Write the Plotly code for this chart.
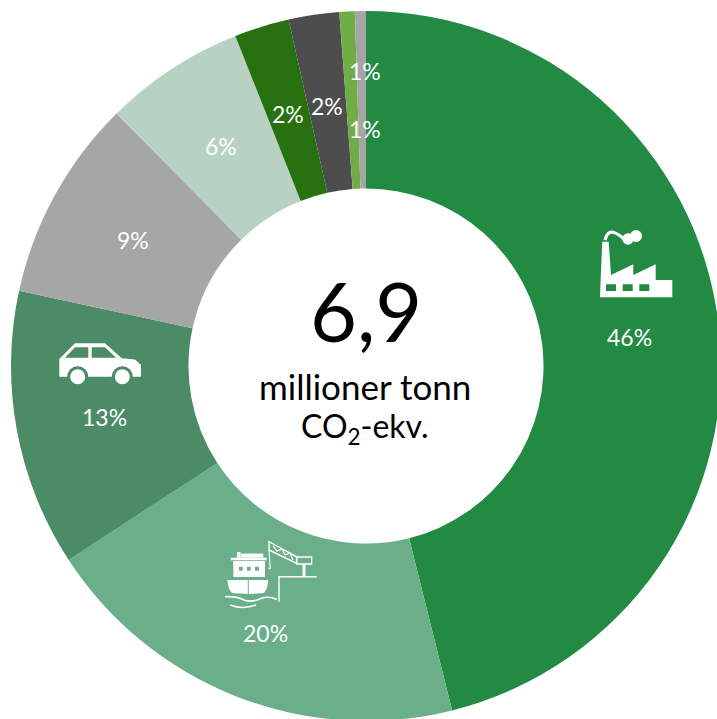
import plotly.graph_objects as go

# sources of emissions, clockwise from 12 o'clock
shares = [46.1, 19.7, 12.6, 9.2, 6.4, 2.5, 2.3, 0.7, 0.5]
share_labels = ["46%", "20%", "13%", "9%", "6%", "2%", "2%", "1%", "1%"]
colors = ["#238A44", "#6BAF8A", "#4B8C67", "#A6A6A6", "#B7D2C3",
          "#277110", "#4D4D4D", "#70AD47", "#A5A5A5"]
label_xy = [(629, 337), (265, 633), (104, 417), (133, 240), (221, 146),
            (288, 114), (327, 106), (365, 71), (365, 129)]

# canvas is a bit bigger than the window, the ring runs off the right and bottom edge
W, H = 732, 732
CX, CY, R = 366, 366, 355
GREEN_A, GREEN_B, GREEN_C = colors[0], colors[1], colors[2]


def px(x):
    return x / W


def py(y):
    return 1 - y / H


def path(*parts):
    # parts: strings and (x, y) pixel pairs
    out = []
    for p in parts:
        if isinstance(p, str):
            out.append(p)
        else:
            out.append(f"{px(p[0]):.5f},{py(p[1]):.5f}")
    return " ".join(out)


def poly(*pts):
    out = ["M", pts[0]]
    for p in pts[1:]:
        out += ["L", p]
    out.append("Z")
    return out


def rect(x0, y0, x1, y1):
    return poly((x0, y0), (x1, y0), (x1, y1), (x0, y1))


def filled(parts, color="white"):
    return dict(type="path", xref="paper", yref="paper", path=path(*parts),
                fillcolor=color, line=dict(width=0), layer="above")


def stroked(parts, width=1.6, color="white"):
    return dict(type="path", xref="paper", yref="paper", path=path(*parts),
                line=dict(color=color, width=width), layer="above")


def circle(x, y, r, color="white"):
    return dict(type="circle", xref="paper", yref="paper",
                x0=px(x - r), x1=px(x + r), y0=py(y + r), y1=py(y - r),
                fillcolor=color, line=dict(width=0), layer="above")


def label(x, y, text, size, color):
    return dict(x=px(x), y=py(y), xref="paper", yref="paper", text=text, showarrow=False,
                xanchor="center", yanchor="middle",
                font=dict(family="Lato", size=size, color=color))


shapes = []

# factory
factory = poly((600, 297.3), (600.7, 278), (602.3, 241.7), (608.7, 241.7), (611, 275),
               (633.3, 264.3), (633.3, 275), (655.7, 264.3), (655.7, 280),
               (672.3, 280), (672.3, 297.3))
factory += rect(606, 284.3, 616, 291) + rect(622.7, 284.3, 632.7, 291) + rect(639.3, 284.3, 649.3, 291)
shapes.append(filled(factory))
shapes.append(stroked(["M", (605, 240), "Q", (607, 232), (612, 232), "Q", (618, 233), (625, 240)], 3.2))
shapes += [circle(636, 236, 6), circle(628, 239, 5.7)]

# ship and crane
shapes.append(filled(poly((227.3, 580), (268.3, 580), (267, 588), (264, 593),
                          (249, 594), (232, 593), (229, 589))))
shapes.append(stroked(["M", (248.3, 580), "L", (248.3, 594)], 1, GREEN_B))
shapes.append(filled(rect(233.3, 561, 265, 577) + rect(239, 566.7, 242.7, 570.7)
                     + rect(247, 566.7, 250.7, 570.7) + rect(255, 566.7, 259, 570.7)))
shapes.append(filled(rect(230.7, 557.7, 266.7, 560.3)))
shapes.append(filled(rect(240.7, 553.5, 263.3, 557.7)))
shapes.append(filled(rect(237, 552, 240.5, 557.7)))
shapes.append(stroked(["M", (225, 596.7), "Q", (236, 596), (244, 600), "Q", (252, 603), (262, 598),
                       "Q", (270, 596), (276.7, 599.5)], 1.6))
shapes.append(stroked(["M", (230, 605), "Q", (243, 610), (256, 605)], 1.6))
shapes.append(stroked(["M", (279, 601.7), "L", (279, 576.7), "L", (316.7, 576.7)], 1.4))
shapes.append(filled(rect(302.5, 564, 305.5, 577)))
shapes.append(stroked(poly((296.7, 557), (311.7, 557), (311.7, 564), (296.7, 564)), 1.3))
shapes.append(stroked(["M", (269, 541.7), "L", (269, 550), "L", (296.7, 563.5), "L", (296.7, 557),
                       "Z"], 1.4))
shapes.append(stroked(["M", (273, 546), "L", (277, 551), "L", (282, 549), "L", (285, 555),
                       "L", (290, 553), "L", (293, 560)], 1.2))
shapes.append(stroked(["M", (269, 550), "L", (270, 566), "Q", (271, 570), (268.5, 568)], 1.1))

# car
car = poly((59.3, 359), (75, 343.3), (105, 343.3), (121.7, 358.3), (135, 359.5),
           (141, 365), (141, 376.7), (59.3, 376.7))
car += poly((65, 357.7), (75, 347.3), (88.3, 347.3), (88.3, 357.7))
car += poly((91.7, 347.3), (105, 347.3), (116, 357.7), (91.7, 357.7))
shapes.append(filled(car))
shapes += [circle(77.7, 376.7, 10.5, GREEN_C), circle(122.3, 376.7, 10.5, GREEN_C),
           circle(77.7, 376.7, 7.5), circle(122.3, 376.7, 7.5)]

annotations = [label(x, y, txt, 23, "white") for txt, (x, y) in zip(share_labels, label_xy)]
annotations += [
    label(366, 310, "6,9", 81, "black"),
    label(365, 386, "millioner tonn", 35, "black"),
    label(365, 428, "CO<sub>2</sub>-ekv.", 32, "black"),
]

dom = R / W
fig = go.Figure(go.Pie(
    values=shares,
    labels=[str(i) for i in range(len(shares))],
    sort=False,
    direction="clockwise",
    rotation=0,
    hole=0.5,
    textinfo="none",
    marker=dict(colors=colors, line=dict(width=0)),
    domain=dict(x=[0.5 - dom, 0.5 + dom], y=[0.5 - dom, 0.5 + dom]),
    showlegend=False,
))
fig.update_layout(
    width=W, height=H, autosize=False,
    margin=dict(l=0, r=0, t=0, b=0, pad=0),
    paper_bgcolor="white",
    shapes=shapes,
    annotations=annotations,
)

fig.write_html("out.html", config=dict(displayModeBar=False),
               post_script="document.body.style.margin='0';document.body.style.overflow='hidden';")
